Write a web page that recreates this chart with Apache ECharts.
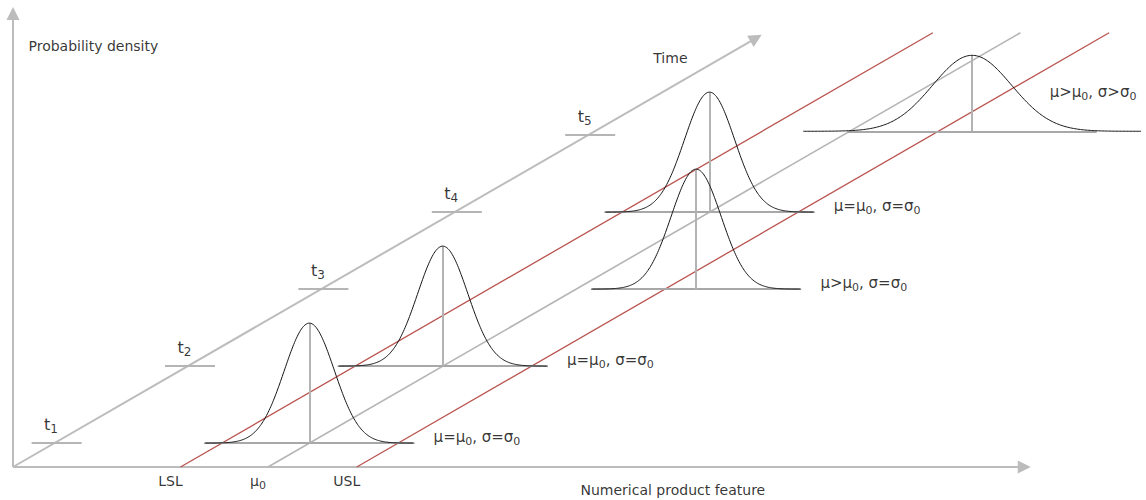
<!DOCTYPE html>
<html>
<head>
<meta charset="utf-8">
<script src="https://cdn.jsdelivr.net/npm/echarts@6/dist/echarts.min.js"></script>
<style>
  html, body { margin: 0; padding: 0; background: #ffffff; }
  #chart { width: 1146px; height: 500px; }
</style>
</head>
<body>
<div id="chart"></div>
<script>
// ---- Diagram data (feature in units of sigma0 relative to mu0; density relative to the sigma0 peak) ----
const timeTicks = [1, 2, 3, 4, 5];
const timeSubs = ['1', '2', '3', '4', '5'];

const specLabels = ['LSL', 'μ{s|0}', 'USL'];
const specValues = [-3.5, 0, 3.55];

const distTimes = [1, 2, 3, 4, 5.05];
const distMeans = [0, 0, 4.8, 0, 4.9];
const distSigmas = [1, 1, 1, 1, 1.58];
const distLabels = [
  'μ=μ{s|0}, σ=σ{s|0}',
  'μ=μ{s|0}, σ=σ{s|0}',
  'μ>μ{s|0}, σ=σ{s|0}',
  'μ=μ{s|0}, σ=σ{s|0}',
  'μ>μ{s|0}, σ>σ{s|0}'
];

const axisTitles = ['Probability density', 'Numerical product feature', 'Time'];

// ---- Layout of the oblique projection ----
const W = 1146, H = 500;
const PX_F = 25;            // pixels per sigma0 along the feature axis
const PX_D = 120;           // pixels per unit of density
const F_CORNER = -10.2;     // feature value where the two axes meet
const CORNER_PX = [13, 467];
const T_ORIGIN = 0.69;      // time value at the axes corner
const T_END = 6.33;         // far end of the time-direction lines
const T_DX = 133.4 / PX_F;  // oblique shift per time step (30 degrees)
const T_DY = 77 / PX_D;
const X_AXIS_END = 30.25;
const Y_AXIS_END = 3.78;

const XMIN = F_CORNER - CORNER_PX[0] / PX_F;
const XMAX = XMIN + W / PX_F;
const YMIN = -(H - CORNER_PX[1]) / PX_D;
const YMAX = YMIN + H / PX_D;

function proj(f, t, d) {
  return [f + (t - T_ORIGIN) * T_DX, d + (t - T_ORIGIN) * T_DY];
}
function toPx(p) {
  return (p[0] - XMIN) * PX_F;
}
// shift a point by a screen offset in pixels (dy positive = down)
function shift(p, dx, dy) {
  return [p[0] + dx / PX_F, p[1] - dy / PX_D];
}

const FONT = '"DejaVu Sans", Verdana, sans-serif';
const TEXT = '#000000';
const GRAY = '#b5b5b5';
const BASE_GRAY = '#a8a8a8';
const RED = '#b9534f';

// ---- Straight lines ----
const corner = proj(F_CORNER, T_ORIGIN, 0);
const axisLines = [
  { coords: [corner, proj(X_AXIS_END, T_ORIGIN, 0)] },
  { coords: [corner, proj(F_CORNER, T_ORIGIN, Y_AXIS_END)] },
  { coords: [corner, proj(F_CORNER, T_END - 0.07, 0)] }
];

const grayDiag = [];
const redDiag = [];
specValues.forEach(function (v, i) {
  const item = { coords: [proj(v, T_ORIGIN, 0), proj(v, T_END, 0)] };
  if (i === 1) grayDiag.push(item); else redDiag.push(item);
});

const tickLines = timeTicks.map(function (t) {
  return { coords: [proj(F_CORNER - 0.91, t, 0), proj(F_CORNER + 1.09, t, 0)] };
});

const baseLines = [];
const meanLines = [];
const curves = [];
distTimes.forEach(function (t, i) {
  const mu = distMeans[i], sg = distSigmas[i];
  const half = 4.15 * Math.pow(sg, 0.4);
  baseLines.push({ coords: [proj(mu - half, t, 0), proj(mu + half, t, 0)] });
  meanLines.push({ coords: [proj(mu, t, 0), proj(mu, t, 1 / sg)] });
  const r = 4.4 * sg - 0.2;
  const pts = [];
  const n = 240;
  for (let k = 0; k <= n; k++) {
    const f = mu - r + (2 * r * k) / n;
    const z = (f - mu) / sg;
    pts.push(proj(f, t, Math.exp(-0.5 * z * z) / sg));
  }
  curves.push(pts);
});

// ---- Text anchors ----
const subRich = {
  s: { fontSize: 11, lineHeight: 11, verticalAlign: 'bottom', fontFamily: FONT, color: TEXT }
};
const subRichT = {
  s: { fontSize: 12, lineHeight: 12, verticalAlign: 'bottom', fontFamily: FONT, color: TEXT }
};

const distLabelData = distTimes.map(function (t, i) {
  const mu = distMeans[i], sg = distSigmas[i];
  const half = 4.15 * Math.pow(sg, 0.4);
  const end = proj(mu + half, t, 0);
  const fits = toPx(end) + 20 + 95 < W;
  const anchor = fits ? shift(end, 20, -6) : proj(mu + 1.95 * sg, t, 0.52 / sg);
  return { value: anchor, label: { formatter: distLabels[i] } };
});

const tickLabelData = timeTicks.map(function (t, i) {
  return { value: shift(proj(F_CORNER + 0.09, t, 0), -13, -19), label: { formatter: 't{s|' + timeSubs[i] + '}' } };
});

const specLabelData = specValues.map(function (v, i) {
  return { value: shift(proj(v, T_ORIGIN, 0), -10, 14), label: { formatter: specLabels[i] } };
});

const leftTitleData = [
  { value: shift(proj(F_CORNER, T_ORIGIN, (CORNER_PX[1] - 46) / PX_D), 15, 0), label: { formatter: axisTitles[0] } },
  { value: shift(proj(12.48, T_ORIGIN, 0), 0, 23), label: { formatter: axisTitles[1] } }
];
const timeTitleData = [
  { value: shift(proj(F_CORNER, 6.0, 0), -51, 0), label: { formatter: axisTitles[2] } }
];

function lineSeries(data, color, width, arrow) {
  return {
    type: 'lines',
    coordinateSystem: 'cartesian2d',
    silent: true,
    symbol: arrow ? ['none', 'triangle'] : ['none', 'none'],
    symbolSize: arrow ? [11, 13] : 0,
    lineStyle: { color: color, width: width, opacity: 1, curveness: 0 },
    itemStyle: { color: color },
    data: data
  };
}

function textSeries(data, label) {
  return {
    type: 'scatter',
    silent: true,
    symbol: 'circle',
    symbolSize: 1,
    itemStyle: { color: 'rgba(255,255,255,0)' },
    label: Object.assign({
      show: true,
      color: TEXT,
      fontFamily: FONT
    }, label),
    data: data
  };
}

const series = [
  lineSeries(axisLines, '#bcbcbc', 2, true),
  lineSeries(grayDiag, GRAY, 1.6, false),
  lineSeries(redDiag, RED, 1.3, false),
  lineSeries(tickLines, GRAY, 2, false),
  lineSeries(baseLines, BASE_GRAY, 2.2, false),
  lineSeries(meanLines, '#b3b3b3', 2, false)
];

curves.forEach(function (pts) {
  series.push({
    type: 'line',
    silent: true,
    showSymbol: false,
    symbol: 'none',
    smooth: false,
    lineStyle: { color: '#151515', width: 1 },
    data: pts
  });
});

series.push(textSeries(distLabelData, {
  position: 'right', distance: 0, fontSize: 15, lineHeight: 20, rich: subRich
}));
series.push(textSeries(tickLabelData, {
  position: 'right', distance: 0, fontSize: 16, lineHeight: 22, rich: subRichT
}));
series.push(textSeries(specLabelData, {
  position: 'inside', align: 'center', verticalAlign: 'middle',
  fontSize: 14, lineHeight: 20, rich: subRich
}));
series.push(textSeries(leftTitleData, { position: 'right', distance: 0, fontSize: 14 }));
series.push(textSeries(timeTitleData, {
  position: 'inside', align: 'center', verticalAlign: 'middle', fontSize: 14
}));

const chart = echarts.init(document.getElementById('chart'), null, { renderer: 'svg', width: W, height: H });
chart.setOption({
  animation: false,
  backgroundColor: '#ffffff',
  grid: { left: 0, right: 0, top: 0, bottom: 0, containLabel: false },
  xAxis: { type: 'value', min: XMIN, max: XMAX, show: false },
  yAxis: { type: 'value', min: YMIN, max: YMAX, show: false },
  tooltip: { show: false },
  series: series
});
</script>
</body>
</html>
